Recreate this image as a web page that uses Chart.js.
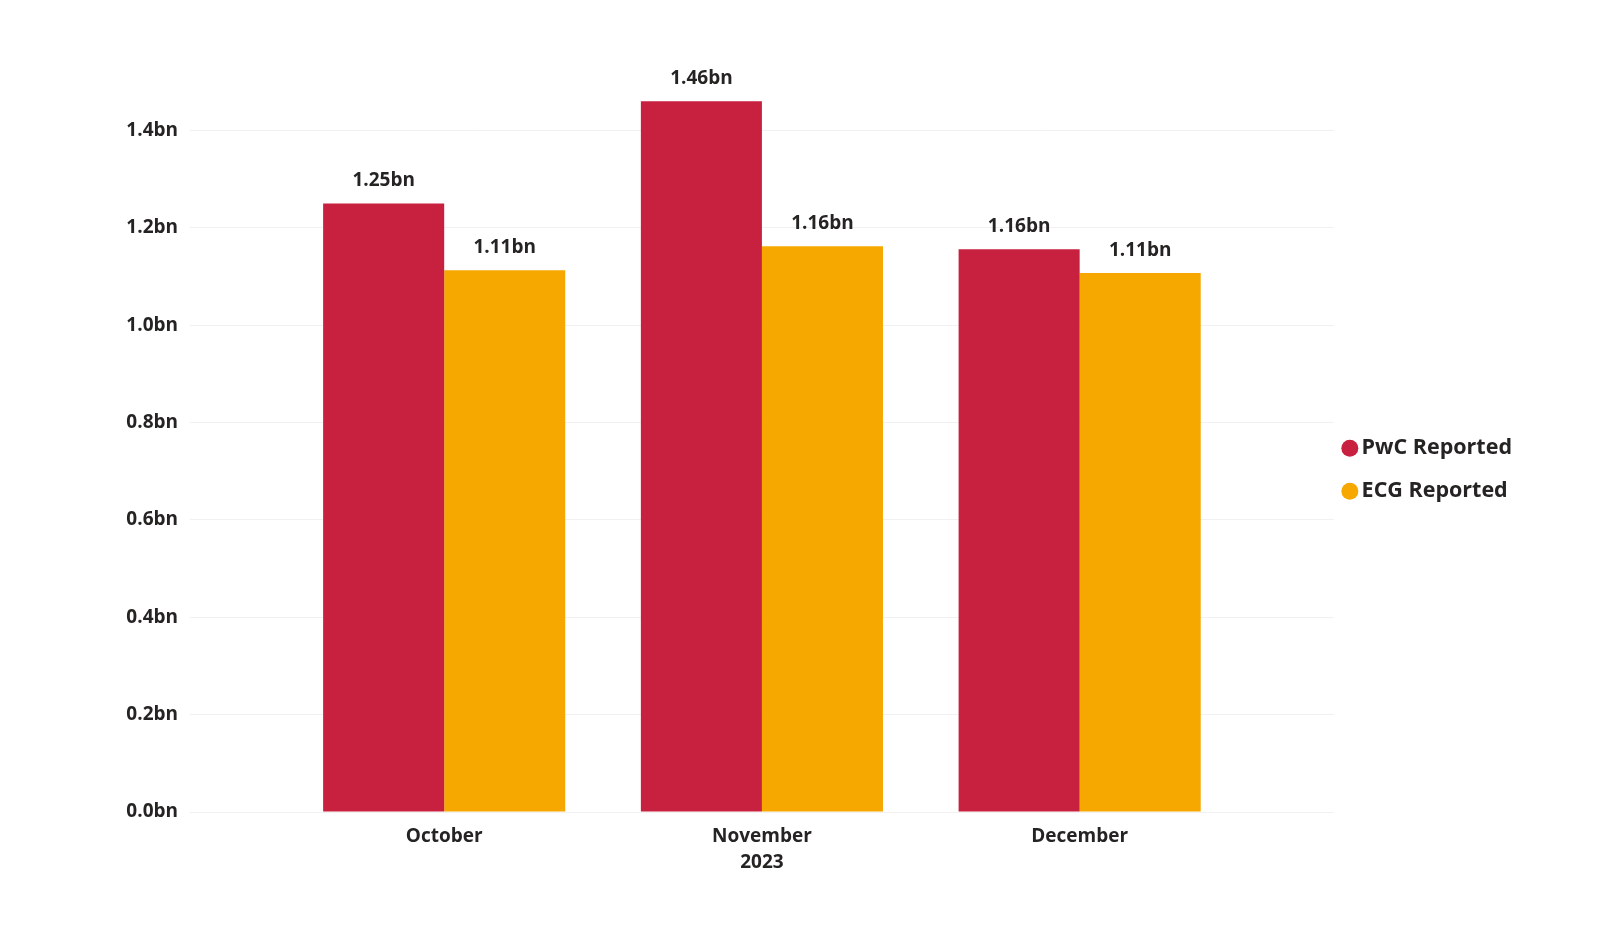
<!DOCTYPE html>
<html>
<head>
<meta charset="utf-8">
<script src="https://cdn.jsdelivr.net/npm/chart.js@4.4.1/dist/chart.umd.min.js"></script>
<style>
  html, body { margin: 0; padding: 0; background: #ffffff; }
  #wrap { width: 1600px; height: 943px; position: relative; }
</style>
</head>
<body>
<div id="wrap"><canvas id="c" width="1600" height="943"></canvas></div>
<script>
// ---- data ----
const categories = ['October', 'November', 'December'];
const yearLabel = '2023';
const seriesNames = ['PwC Reported', 'ECG Reported'];
const pwcValues = [1.25, 1.46, 1.156];
const ecgValues = [1.113, 1.162, 1.107];
const yTickValues = [0, 0.2, 0.4, 0.6, 0.8, 1.0, 1.2, 1.4];

const RED = '#C8203F';
const ORANGE = '#F7A800';
const TEXT = '#252423';
const FONT = "'Open Sans', 'Noto Sans', sans-serif";

const fmt = v => v.toFixed(2) + 'bn';

const valueLabels = {
  id: 'valueLabels',
  afterDatasetsDraw(chart) {
    const ctx = chart.ctx;
    ctx.save();
    ctx.font = '700 19px ' + FONT;
    ctx.fillStyle = TEXT;
    ctx.textAlign = 'center';
    ctx.textBaseline = 'middle';
    chart.data.datasets.forEach((ds, di) => {
      const meta = chart.getDatasetMeta(di);
      meta.data.forEach((el, i) => {
        ctx.fillText(fmt(ds.data[i].y), el.x, el.y - 23);
      });
    });
    ctx.restore();
  }
};

const ctx = document.getElementById('c').getContext('2d');
new Chart(ctx, {
  type: 'bar',
  data: {
    datasets: [
      { label: seriesNames[0], data: pwcValues.map((v, i) => ({ x: i, y: v })), backgroundColor: RED },
      { label: seriesNames[1], data: ecgValues.map((v, i) => ({ x: i, y: v })), backgroundColor: ORANGE }
    ]
  },
  options: {
    responsive: false,
    animation: false,
    devicePixelRatio: 1,
    layout: { padding: { top: 8, bottom: 5, left: 0, right: 78 } },
    datasets: { bar: { categoryPercentage: 0.762, barPercentage: 1.0, borderWidth: 0 } },
    scales: {
      x: {
        type: 'linear',
        offset: false,
        min: -0.8,
        max: 2.8,
        grid: { display: false, drawTicks: false },
        border: { display: false },
        afterBuildTicks(scale) { scale.ticks = categories.map((c, i) => ({ value: i })); },
        afterFit(scale) { scale.height = 126; },
        ticks: {
          autoSkip: false,
          maxRotation: 0,
          padding: 12,
          color: TEXT,
          font: { family: FONT, size: 19, weight: '700', lineHeight: 1.37 },
          callback: (v) => {
            const name = categories[v];
            return v === 1 ? [name, yearLabel] : name;
          }
        }
      },
      y: {
        min: 0,
        max: 1.62,
        grid: { color: '#F1F1F1', lineWidth: 1, drawTicks: false },
        border: { display: false },
        afterBuildTicks(scale) { scale.ticks = yTickValues.map(v => ({ value: v })); },
        afterFit(scale) { scale.width = 190; },
        ticks: {
          padding: 12,
          color: TEXT,
          font: { family: FONT, size: 19, weight: '700' },
          callback: (v) => v.toFixed(1) + 'bn'
        }
      }
    },
    plugins: {
      tooltip: { enabled: false },
      legend: {
        position: 'right',
        align: 'center',
        labels: {
          usePointStyle: true,
          pointStyle: 'circle',
          boxWidth: 2,
          boxHeight: 12,
          padding: 15,
          color: TEXT,
          font: { family: FONT, size: 21.5, weight: '700', lineHeight: 1.302 },
          generateLabels(chart) {
            const items = Chart.defaults.plugins.legend.labels.generateLabels(chart);
            items.forEach(it => { it.text = [it.text]; it.lineWidth = 0; });
            return items;
          }
        }
      }
    }
  },
  plugins: [valueLabels]
});
</script>
</body>
</html>
